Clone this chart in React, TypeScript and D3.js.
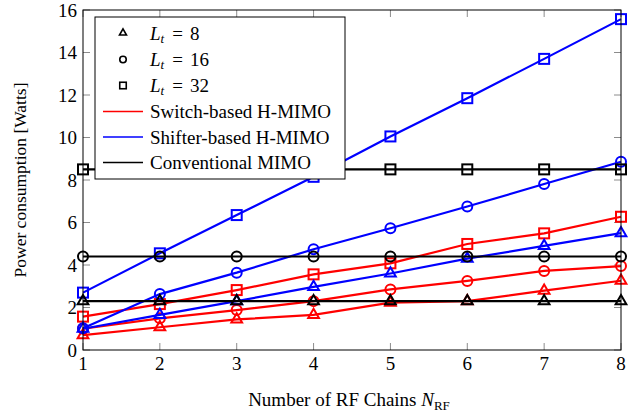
import React from "react";
import * as d3 from "d3";

const xValues = [1, 2, 3, 4, 5, 6, 7, 8];
const xTicks = [1, 2, 3, 4, 5, 6, 7, 8];
const yTicks = [0, 2, 4, 6, 8, 10, 12, 14, 16];

const switchLt8 = [0.7, 1.07, 1.44, 1.65, 2.23, 2.3, 2.79, 3.26];
const switchLt16 = [1.0, 1.49, 1.88, 2.3, 2.85, 3.25, 3.72, 3.95];
const switchLt32 = [1.57, 2.16, 2.82, 3.56, 4.08, 4.99, 5.49, 6.27];
const shifterLt8 = [1.0, 1.65, 2.3, 2.97, 3.6, 4.3, 4.9, 5.5];
const shifterLt16 = [1.02, 2.63, 3.64, 4.74, 5.73, 6.75, 7.81, 8.86];
const shifterLt32 = [2.7, 4.55, 6.35, 8.15, 10.05, 11.85, 13.7, 15.57];
const convLt8 = [2.3, 2.3, 2.3, 2.3, 2.3, 2.3, 2.3, 2.3];
const convLt16 = [4.4, 4.4, 4.4, 4.4, 4.4, 4.4, 4.4, 4.4];
const convLt32 = [8.5, 8.5, 8.5, 8.5, 8.5, 8.5, 8.5, 8.5];

const RED = "#ff0000";
const BLUE = "#0000ff";
const BLACK = "#000000";

const series = [
  { values: switchLt8, color: RED, mark: "triangle" },
  { values: switchLt16, color: RED, mark: "circle" },
  { values: switchLt32, color: RED, mark: "square" },
  { values: shifterLt8, color: BLUE, mark: "triangle" },
  { values: shifterLt16, color: BLUE, mark: "circle" },
  { values: shifterLt32, color: BLUE, mark: "square" },
  { values: convLt8, color: BLACK, mark: "triangle" },
  { values: convLt16, color: BLACK, mark: "circle" },
  { values: convLt32, color: BLACK, mark: "square" },
];

const markLegend = [
  { mark: "triangle", val: "8" },
  { mark: "circle", val: "16" },
  { mark: "square", val: "32" },
];
const lineLegend = [
  { label: "Switch-based H-MIMO", color: RED },
  { label: "Shifter-based H-MIMO", color: BLUE },
  { label: "Conventional MIMO", color: BLACK },
];

const FONT = "'Liberation Serif', 'Times New Roman', serif";

function Marker({ x, y, mark, color, size, sw }: any) {
  if (mark === "circle") {
    return <circle cx={x} cy={y} r={size / 2} fill="none" stroke={color} strokeWidth={sw} />;
  }
  if (mark === "square") {
    return (
      <rect x={x - size / 2} y={y - size / 2} width={size} height={size} fill="none" stroke={color} strokeWidth={sw} />
    );
  }
  const r = size * 0.62;
  const pts = [0, 1, 2]
    .map((i) => {
      const a = -Math.PI / 2 + (i * 2 * Math.PI) / 3;
      return `${x + r * Math.cos(a)},${y + r * Math.sin(a)}`;
    })
    .join(" ");
  return <polygon points={pts} fill="none" stroke={color} strokeWidth={sw} strokeLinejoin="miter" />;
}

export default function App() {
  const W = 644;
  const H = 416;
  const left = 83;
  const right = 621;
  const top = 10;
  const bottom = 350;
  const x = d3.scaleLinear().domain([1, 8]).range([left, right]);
  const y = d3.scaleLinear().domain([0, 16]).range([bottom, top]);
  const line = d3
    .line<number>()
    .x((_, i) => x(xValues[i]))
    .y((d) => y(d));
  const tickLen = 7;
  const tickColor = "#8c8c8c";

  const lgX = 95;
  const lgY = 17;
  const lgW = 250;
  const lgH = 162;
  const rowY = [33, 59.5, 85.5, 111.5, 137, 162.5];

  return (
    <svg width={W} height={H} style={{ position: "absolute", left: 0, top: 0 }} fontFamily={FONT}>
      <rect x={0} y={0} width={W} height={H} fill="white" />
      <defs>
        <clipPath id="plotclip">
          <rect x={left - 8} y={top - 8} width={right - left + 16} height={bottom - top + 16} />
        </clipPath>
      </defs>
      {xTicks.map((t) => (
        <g key={"xt" + t}>
          <line x1={x(t)} x2={x(t)} y1={bottom} y2={bottom - tickLen} stroke={tickColor} strokeWidth={1} />
          <line x1={x(t)} x2={x(t)} y1={top} y2={top + tickLen} stroke={tickColor} strokeWidth={1} />
          <text x={x(t)} y={370} fontSize={19} textAnchor="middle" fill="#000">
            {t}
          </text>
        </g>
      ))}
      {yTicks.map((t) => (
        <g key={"yt" + t}>
          <line x1={left} x2={left + tickLen} y1={y(t)} y2={y(t)} stroke={tickColor} strokeWidth={1} />
          <line x1={right} x2={right - tickLen} y1={y(t)} y2={y(t)} stroke={tickColor} strokeWidth={1} />
          <text x={77} y={y(t)} dy="0.35em" fontSize={19} textAnchor="end" fill="#000">
            {t}
          </text>
        </g>
      ))}
      <g clipPath="url(#plotclip)">
        {series.map((s, si) => (
          <g key={"s" + si}>
            <path d={line(s.values) || ""} fill="none" stroke={s.color} strokeWidth={2.2} />
            {s.values.map((v, i) => (
              <Marker key={i} x={x(xValues[i])} y={y(v)} mark={s.mark} color={s.color} size={10} sw={2} />
            ))}
          </g>
        ))}
      </g>
      <rect x={left} y={top} width={right - left} height={bottom - top} fill="none" stroke="#000" strokeWidth={1} />
      <g>
        <rect x={lgX} y={lgY} width={lgW} height={lgH} fill="white" stroke="#000" strokeWidth={1} />
        {markLegend.map((m, i) => (
          <g key={"ml" + i}>
            <Marker x={123} y={rowY[i]} mark={m.mark} color="#000" size={6.5} sw={1.6} />
            <text x={150} y={rowY[i]} dy="0.35em" fontSize={19} fill="#000">
              <tspan fontStyle="italic">L</tspan>
              <tspan fontStyle="italic" fontSize={13} dy={3}>
                t
              </tspan>
              <tspan dy={-3} dx={8}>
                =
              </tspan>
              <tspan dx={7}>{m.val}</tspan>
            </text>
          </g>
        ))}
        {lineLegend.map((l, i) => (
          <g key={"ll" + i}>
            <line x1={103} x2={143} y1={rowY[i + 3]} y2={rowY[i + 3]} stroke={l.color} strokeWidth={1.4} />
            <text x={150} y={rowY[i + 3]} dy="0.35em" fontSize={19} fill="#000">
              {l.label}
            </text>
          </g>
        ))}
      </g>
      <text x={349} y={406} fontSize={19} textAnchor="middle" fill="#000">
        Number of RF Chains{" "}
        <tspan fontStyle="italic">N</tspan>
        <tspan fontSize={13} dy={4}>
          RF
        </tspan>
      </text>
      <text transform={`translate(26, ${180}) rotate(-90)`} fontSize={17.5} textAnchor="middle" fill="#000">
        Power consumption [Watts]
      </text>
    </svg>
  );
}
